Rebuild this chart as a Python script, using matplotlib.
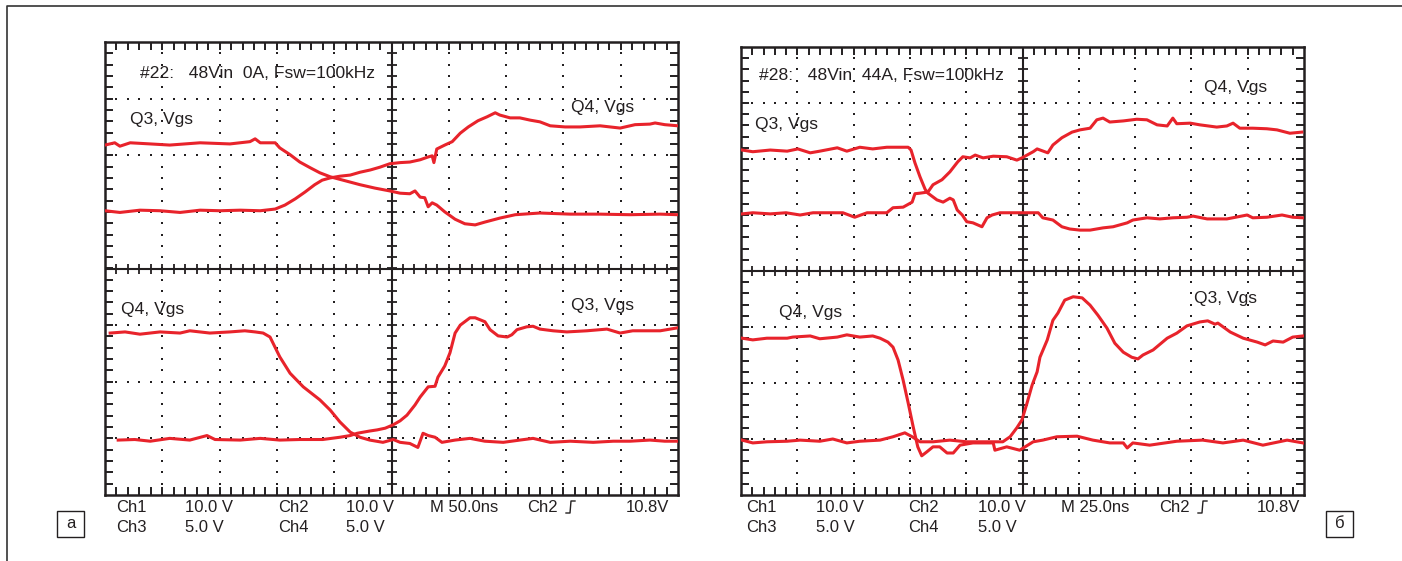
import numpy as np
import matplotlib.pyplot as plt
from matplotlib.lines import Line2D
from matplotlib.patches import Rectangle

W, H = 1402, 561
TRACE = '#e8232b'
INK = '#231f20'
LABEL_FONT = ['Liberation Sans', 'DejaVu Sans']
NARROW_FONT = ['Liberation Sans Narrow', 'Liberation Sans', 'DejaVu Sans']

# traces read off the scope screens, in divisions: (time div 0..10, level div -4..4)
# panel a: 48Vin 0A
a_q3_top = [(0, 2.18), (0.17, 2.22), (0.26, 2.16), (0.44, 2.22), (0.79, 2.20), (1.13, 2.18),
            (1.66, 2.22), (2.18, 2.20), (2.53, 2.24), (2.62, 2.29), (2.71, 2.22), (2.97, 2.22),
            (3.05, 2.13), (3.23, 2.01), (3.40, 1.88), (3.58, 1.78), (3.75, 1.69), (3.93, 1.62),
            (4.19, 1.55), (4.45, 1.48), (4.71, 1.42), (4.97, 1.37), (5.15, 1.33), (5.32, 1.32),
            (5.41, 1.37), (5.50, 1.26), (5.58, 1.25), (5.64, 1.09), (5.71, 1.16), (5.79, 1.12),
            (5.93, 1.00), (6.11, 0.87), (6.28, 0.79), (6.46, 0.77), (6.63, 0.82), (6.89, 0.89),
            (7.16, 0.95), (7.59, 0.98), (8.12, 0.96), (8.64, 0.96), (9.16, 0.95), (9.69, 0.96),
            (10, 0.95)]
a_q4_top = [(0, 1.02), (0.26, 0.99), (0.61, 1.03), (0.96, 1.02), (1.31, 0.99), (1.66, 1.03),
            (2.01, 1.02), (2.36, 1.03), (2.71, 1.02), (2.97, 1.05), (3.14, 1.12), (3.32, 1.23),
            (3.49, 1.35), (3.66, 1.48), (3.79, 1.56), (3.93, 1.60), (4.10, 1.63), (4.28, 1.65),
            (4.45, 1.70), (4.63, 1.74), (4.80, 1.79), (4.97, 1.85), (5.15, 1.87), (5.32, 1.88),
            (5.50, 1.92), (5.64, 1.97), (5.71, 1.99), (5.74, 1.87), (5.79, 2.11), (5.93, 2.18),
            (6.06, 2.24), (6.20, 2.39), (6.34, 2.50), (6.51, 2.61), (6.67, 2.68), (6.81, 2.75),
            (6.89, 2.71), (7.07, 2.66), (7.24, 2.66), (7.42, 2.62), (7.59, 2.59), (7.77, 2.52),
            (8.03, 2.50), (8.29, 2.50), (8.64, 2.52), (8.99, 2.48), (9.25, 2.54), (9.51, 2.55),
            (9.60, 2.57), (9.77, 2.54), (10, 2.52)]
a_q4_bot = [(0.09, -1.14), (0.35, -1.12), (0.61, -1.16), (0.96, -1.12), (1.31, -1.14), (1.48, -1.10),
            (1.83, -1.14), (2.18, -1.12), (2.44, -1.10), (2.62, -1.12), (2.76, -1.14), (2.88, -1.21),
            (3.05, -1.56), (3.23, -1.85), (3.46, -2.09), (3.75, -2.32), (3.93, -2.50), (4.10, -2.71),
            (4.28, -2.89), (4.45, -2.98), (4.62, -3.03), (4.85, -3.07), (5.03, -3.02), (5.15, -3.07),
            (5.32, -3.09), (5.46, -3.16), (5.55, -2.91), (5.64, -2.95), (5.76, -2.98), (5.88, -3.07),
            (6.11, -3.03), (6.37, -3.00), (6.63, -3.05), (6.95, -3.07), (7.24, -3.03), (7.47, -3.00),
            (7.77, -3.07), (8.12, -3.05), (8.52, -3.07), (8.87, -3.05), (9.16, -3.05), (9.51, -3.03),
            (9.77, -3.05), (9.98, -3.05)]
a_q3_bot = [(0.23, -3.03), (0.52, -3.02), (0.79, -3.05), (1.13, -3.00), (1.48, -3.03), (1.78, -2.95),
            (1.92, -3.02), (2.36, -3.03), (2.71, -3.00), (3.05, -3.03), (3.40, -3.02), (3.80, -3.02),
            (4.10, -2.98), (4.28, -2.95), (4.40, -2.91), (4.62, -2.87), (4.75, -2.85), (4.89, -2.82),
            (5.03, -2.76), (5.15, -2.69), (5.27, -2.59), (5.41, -2.41), (5.50, -2.27), (5.64, -2.09),
            (5.76, -2.08), (5.81, -1.92), (5.93, -1.72), (6.02, -1.49), (6.11, -1.14), (6.20, -1.00),
            (6.37, -0.87), (6.46, -0.87), (6.63, -0.94), (6.72, -1.08), (6.86, -1.19), (7.02, -1.21),
            (7.10, -1.17), (7.19, -1.08), (7.36, -1.03), (7.47, -1.02), (7.59, -1.07), (7.82, -1.10),
            (8.06, -1.12), (8.41, -1.10), (8.76, -1.07), (8.99, -1.14), (9.21, -1.10), (9.69, -1.10),
            (9.98, -1.05)]

# panel б: 48Vin 44A
b_q3_top = [(0.02, 2.16), (0.21, 2.13), (0.52, 2.16), (0.82, 2.14), (1.01, 2.18), (1.23, 2.11),
            (1.40, 2.14), (1.71, 2.20), (1.88, 2.14), (2.11, 2.21), (2.34, 2.18), (2.59, 2.21),
            (2.77, 2.21), (2.97, 2.21), (3.02, 2.16), (3.09, 1.93), (3.18, 1.68), (3.27, 1.46),
            (3.32, 1.39), (3.48, 1.27), (3.59, 1.23), (3.71, 1.30), (3.77, 1.27), (3.84, 1.09),
            (3.93, 1.00), (4.01, 0.88), (4.12, 0.86), (4.28, 0.79), (4.37, 0.95), (4.46, 1.00),
            (4.60, 1.04), (4.83, 1.04), (5.01, 1.04), (5.19, 1.04), (5.28, 1.04), (5.36, 0.95),
            (5.54, 0.91), (5.70, 0.79), (5.84, 0.75), (6.02, 0.73), (6.20, 0.73), (6.43, 0.77),
            (6.61, 0.79), (6.86, 0.86), (6.96, 0.91), (7.21, 0.95), (7.44, 0.93), (7.67, 0.95),
            (7.92, 0.96), (8.03, 0.98), (8.28, 0.93), (8.63, 0.93), (8.99, 1.00), (9.09, 0.95),
            (9.34, 0.96), (9.61, 1.00), (9.80, 0.96), (9.98, 0.95)]
b_q4_top = [(0.02, 1.02), (0.21, 1.04), (0.52, 1.02), (0.80, 1.04), (1.05, 1.00), (1.28, 1.04),
            (1.58, 1.04), (1.81, 1.04), (2.02, 0.96), (2.24, 1.04), (2.59, 1.04), (2.70, 1.13),
            (2.88, 1.14), (3.04, 1.23), (3.09, 1.38), (3.18, 1.39), (3.32, 1.41), (3.41, 1.54),
            (3.57, 1.63), (3.71, 1.77), (3.85, 1.95), (3.94, 2.04), (4.07, 2.02), (4.16, 2.07),
            (4.30, 2.02), (4.48, 2.05), (4.72, 2.04), (4.90, 1.98), (4.99, 2.02), (5.19, 2.13),
            (5.26, 2.18), (5.45, 2.11), (5.54, 2.25), (5.70, 2.38), (5.88, 2.48), (6.02, 2.52),
            (6.20, 2.55), (6.32, 2.70), (6.43, 2.73), (6.55, 2.66), (6.79, 2.68), (7.03, 2.71),
            (7.21, 2.70), (7.39, 2.61), (7.57, 2.59), (7.67, 2.73), (7.74, 2.63), (7.98, 2.64),
            (8.15, 2.61), (8.45, 2.57), (8.63, 2.59), (8.74, 2.64), (8.86, 2.55), (9.09, 2.55),
            (9.34, 2.54), (9.52, 2.52), (9.75, 2.46), (9.96, 2.48)]
b_q4_bot = [(0.02, -1.20), (0.21, -1.23), (0.46, -1.20), (0.82, -1.20), (0.92, -1.18), (1.23, -1.16),
            (1.40, -1.21), (1.71, -1.18), (1.88, -1.14), (2.11, -1.18), (2.34, -1.16), (2.47, -1.20),
            (2.61, -1.27), (2.70, -1.36), (2.79, -1.59), (2.88, -1.95), (2.97, -2.36), (3.06, -2.79),
            (3.14, -3.14), (3.21, -3.30), (3.30, -3.23), (3.41, -3.14), (3.53, -3.14), (3.66, -3.25),
            (3.77, -3.25), (3.89, -3.11), (4.12, -3.07), (4.48, -3.07), (4.51, -3.20), (4.72, -3.14),
            (4.95, -3.20), (5.19, -3.05), (5.36, -3.02), (5.61, -2.96), (5.97, -2.95), (6.25, -3.02),
            (6.55, -3.07), (6.79, -3.07), (6.86, -3.16), (6.96, -3.07), (7.26, -3.11), (7.74, -3.04),
            (8.20, -3.02), (8.56, -3.07), (8.92, -3.02), (9.27, -3.11), (9.70, -3.02), (9.98, -3.07)]
b_q3_bot = [(0.02, -3.02), (0.21, -3.07), (0.46, -3.05), (0.82, -3.04), (1.05, -3.02), (1.40, -3.04),
            (1.63, -3.00), (1.88, -3.07), (2.11, -3.04), (2.47, -3.02), (2.70, -2.96), (2.91, -2.89),
            (3.04, -2.96), (3.18, -3.05), (3.41, -3.05), (3.71, -3.02), (4.01, -3.05), (4.37, -3.05),
            (4.65, -3.05), (4.78, -2.96), (4.90, -2.80), (4.99, -2.66), (5.08, -2.36), (5.17, -2.04),
            (5.26, -1.80), (5.31, -1.54), (5.44, -1.23), (5.54, -0.88), (5.63, -0.75), (5.75, -0.52),
            (5.90, -0.46), (6.06, -0.48), (6.20, -0.61), (6.34, -0.79), (6.50, -1.02), (6.64, -1.29),
            (6.79, -1.45), (6.94, -1.54), (7.05, -1.57), (7.14, -1.50), (7.32, -1.41), (7.57, -1.20),
            (7.74, -1.11), (7.92, -0.98), (8.15, -0.91), (8.29, -0.89), (8.42, -0.95), (8.47, -0.93),
            (8.69, -1.09), (8.92, -1.20), (9.17, -1.27), (9.31, -1.32), (9.45, -1.25), (9.63, -1.27),
            (9.80, -1.18), (9.98, -1.16)]

a_title = '#22:   48Vin  0A, Fsw=100kHz'
b_title = '#28:   48Vin  44A, Fsw=100kHz'
a_timebase = 'M 50.0ns'
b_timebase = 'M 25.0ns'
row1 = ['Ch1', '10.0 V', 'Ch2', '10.0 V']
row2 = ['Ch3', '5.0 V', 'Ch4', '5.0 V']
trig_chan = 'Ch2'
trig_level = '10.8V'


def fig_xy(x, y):
    # pixel position on the page -> figure fraction
    return x / W, 1 - y / H


def graticule(ax):
    ax.set_xlim(0, 10)
    ax.set_ylim(-4, 4)
    ax.set_xticks([])
    ax.set_yticks([])
    ax.set_xticks(np.arange(0.2, 10, 0.2), minor=True)
    ax.set_yticks(np.arange(-3.8, 4, 0.2), minor=True)
    ax.tick_params(which='minor', direction='in', length=5.5, width=1.4, color=INK,
                   top=True, right=True, labelbottom=False, labelleft=False)
    for s in ax.spines.values():
        s.set_linewidth(1.8)
        s.set_color(INK)
    fx = np.arange(0.2, 10, 0.2)
    fy = np.arange(-3.8, 4, 0.2)
    ax.axhline(0, color=INK, lw=1.5, zorder=2)
    ax.axvline(5, color=INK, lw=1.5, zorder=2)
    ax.plot(fx, np.zeros_like(fx), ls='', marker='|', ms=7, mew=1.3, color=INK, zorder=2)
    ax.plot(np.full_like(fy, 5), fy, ls='', marker='_', ms=7, mew=1.3, color=INK, zorder=2)
    for gx in [1, 2, 3, 4, 6, 7, 8, 9]:
        ax.plot(np.full_like(fy, gx), fy, ls='', marker='s', ms=1.8, mew=0, color=INK, zorder=2)
    for gy in [-3, -2, -1, 1, 2, 3]:
        ax.plot(fx, np.full_like(fx, gy), ls='', marker='s', ms=1.8, mew=0, color=INK, zorder=2)


def trace(ax, pts):
    p = np.array(pts)
    ax.plot(p[:, 0], p[:, 1], color=TRACE, lw=2.2, solid_joinstyle='round', zorder=3)


def label(ax, x, y, s):
    ax.text(x, y, s, fontsize=12.6, family=LABEL_FONT, color=INK, va='center', ha='left', zorder=4)


def trig_symbol(fig, x, y):
    xs = [x, x + 4, x + 5, x + 9]
    ys = [y + 6, y + 6, y - 6, y - 6]
    fig.add_artist(Line2D([v / W for v in xs], [1 - v / H for v in ys], color=INK, lw=1.0))


def readout(fig, cols, timebase_x, trig_x, sym_x, level_x, tb):
    kw = dict(fontsize=12, family=NARROW_FONT, color=INK, va='center')
    for i, s in enumerate(row1):
        fig.text(*fig_xy(cols[i], 507), s, **kw)
    for i, s in enumerate(row2):
        fig.text(*fig_xy(cols[i], 528), s, **kw)
    fig.text(*fig_xy(timebase_x, 507), tb, **kw)
    fig.text(*fig_xy(trig_x, 507), trig_chan, **kw)
    trig_symbol(fig, sym_x, 507)
    fig.text(*fig_xy(level_x, 507), trig_level, **kw)


def tag(fig, x0, y0, s):
    fig.add_artist(Rectangle(fig_xy(x0, y0 + 26), 27 / W, 26 / H, fill=False, edgecolor=INK, lw=1.0))
    fig.text(*fig_xy(x0 + 13.5, y0 + 13), s, fontsize=12, family=NARROW_FONT, color=INK,
             ha='center', va='center')


fig = plt.figure(figsize=(W / 100, H / 100), dpi=100)
fig.patch.set_facecolor('white')

# outer frame (top and left edges only visible)
fig.add_artist(Line2D([7 / W, 7 / W, 1], [0, 1 - 6 / H, 1 - 6 / H], color='#333333', lw=1.2))

ax_a = fig.add_axes([105 / W, 1 - 495 / H, 573 / W, 453 / H])
ax_b = fig.add_axes([741 / W, 1 - 495 / H, 563 / W, 448 / H])

graticule(ax_a)
for pts in [a_q3_top, a_q4_top, a_q4_bot, a_q3_bot]:
    trace(ax_a, pts)
label(ax_a, 0.61, 3.44, a_title)
label(ax_a, 0.44, 2.64, 'Q3, Vgs')
label(ax_a, 8.13, 2.84, 'Q4, Vgs')
label(ax_a, 0.28, -0.73, 'Q4, Vgs')
label(ax_a, 8.13, -0.65, 'Q3, Vgs')

graticule(ax_b)
for pts in [b_q3_top, b_q4_top, b_q4_bot, b_q3_bot]:
    trace(ax_b, pts)
label(ax_b, 0.32, 3.50, b_title)
label(ax_b, 0.25, 2.61, 'Q3, Vgs')
label(ax_b, 8.22, 3.27, 'Q4, Vgs')
label(ax_b, 0.68, -0.75, 'Q4, Vgs')
label(ax_b, 8.05, -0.50, 'Q3, Vgs')

readout(fig, [116, 185, 278, 346], 430, 527, 566, 626, a_timebase)
readout(fig, [746, 816, 908, 978], 1061, 1159, 1198, 1257, b_timebase)

tag(fig, 57, 511, 'a')
tag(fig, 1326, 511, 'б')

fig.savefig('out.png', dpi=100, facecolor='white')
